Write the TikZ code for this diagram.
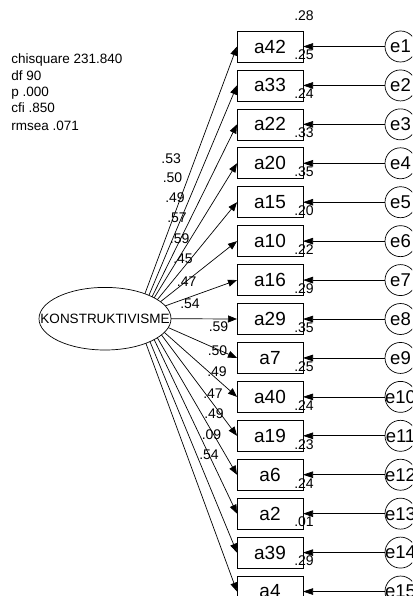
\documentclass[tikz,border=0pt]{standalone}
\usepackage{fontspec}
\setmainfont{Liberation Sans}
\usetikzlibrary{arrows.meta,shapes.geometric}
\begin{document}
\begin{tikzpicture}[x=1pt,y=-1pt,line width=0.7pt,
  obs/.style={draw,rectangle,minimum width=66pt,minimum height=31pt,inner sep=0pt,outer sep=0pt,font=\fontsize{19}{19}\selectfont},
  err/.style={draw,circle,minimum size=31pt,inner sep=0pt,outer sep=0pt},
  errtxt/.style={font=\fontsize{18.5}{18.5}\selectfont,inner sep=0pt},
  coef/.style={font=\fontsize{14}{14}\selectfont,inner sep=0pt},
  stat/.style={font=\fontsize{13.5}{13.5}\selectfont,inner sep=0pt,anchor=base west},
  lnk/.style={-{Triangle[length=9pt,width=7pt]}},
  elnk/.style={-{Triangle[length=10pt,width=6.5pt]}}
]
\useasboundingbox (0,0) rectangle (412,596);
\clip (0,0) rectangle (412,596);
% stats
\node[stat] (s1) at (11,64) {chisquare 231.840};
\node[stat] (s2) at (11,81) {df 90};
\node[stat] (s3) at (11,96.7) {p .000};
\node[stat] (s4) at (11,112.3) {cfi .850};
\node[stat] (s5) at (11,130.7) {rmsea .071};
% latent
\node[draw,ellipse,minimum width=132pt,minimum height=62.6pt,inner sep=0pt,outer sep=0pt] (ell) at (105,318.7) {};
\node[font=\fontsize{13.5}{13.5}\selectfont,inner sep=0pt] (elltxt) at (ell.center) {KONSTRUKTIVISME};
% boxes and errors
\foreach \lab [count=\i from 0] in {a42,a33,a22,a20,a15,a10,a16,a29,a7,a40,a19,a6,a2,a39,a4} {
  \node[obs] (b\i) at (270,{46.5+38.93*\i}) {\lab};
  \node[err] (c\i) at (400.5,{46.5+38.93*\i}) {};
  \pgfmathtruncatemacro{\j}{\i+1}
  \node[errtxt] (t\i) at (c\i.center) {e\j};
  \draw[elnk] (c\i.west) -- (b\i.east);
}
% loadings
\foreach \i/\ang in {0/32.4,1/28.7,2/25.9,3/23.2,4/20.9,5/17.5,6/12.5,7/0,8/-8.4,9/-13.7,10/-16.9,11/-20.5,12/-23.8,13/-27.6,14/-31.6} {
  \draw[lnk] (ell.\ang) -- (b\i.west);
}
% R2 labels
\foreach \v [count=\i from 0] in {.28,.25,.24,.33,.35,.20,.22,.29,.35,.25,.24,.23,.24,.01,.29} {
  \node[coef] (r\i) at (304,{16+38.93*\i}) {\v};
}
% loading labels
\foreach \v/\x/\y [count=\k] in {.53/171.2/158.5,.50/172.5/178,.49/175/197.7,.57/177/218,.59/179.7/238.5,.45/183/259,.47/186.7/281.5,.54/190/303.5,.59/218.5/327,.50/217.5/350.5,.49/217/372,.47/213/394,.49/214/413.5,.09/211.5/434.5,.54/209/455} {
  \node[coef] (l\k) at (\x,\y) {\v};
}
\end{tikzpicture}
\end{document}
